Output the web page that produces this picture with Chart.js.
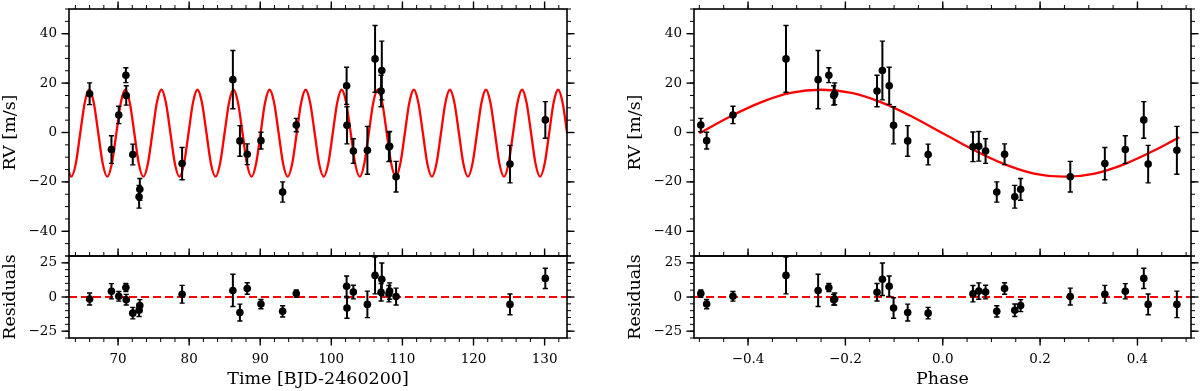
<!DOCTYPE html>
<html>
<head>
<meta charset="utf-8">
<script src="https://cdn.jsdelivr.net/npm/chart.js@4"></script>
<style>
  body { margin: 0; background: #fff; }
  #wrap { position: relative; width: 1200px; height: 391px; }
  canvas { position: absolute; }
</style>
</head>
<body>
<div id="wrap">
  <canvas id="timeRv" width="600" height="262" style="left:0;top:0"></canvas>
  <canvas id="timeRes" width="600" height="151" style="left:0;top:240px"></canvas>
  <canvas id="phaseRv" width="600" height="262" style="left:600px;top:0"></canvas>
  <canvas id="phaseRes" width="600" height="151" style="left:600px;top:240px"></canvas>
</div>
<script>
const times = [66.0, 69.07, 70.1, 71.1, 71.15, 72.07, 72.96, 73.06, 79.01, 86.15, 87.14, 88.17, 90.1, 93.15,
  95.07, 102.15, 102.2, 103.1, 105.07, 106.15, 107.0, 107.1, 108.1, 108.2, 109.11, 125.13, 130.1];
const phases = [-0.222, 0.375, -0.431, -0.234, -0.224, -0.030, 0.148, 0.160, 0.333, -0.256, -0.072, 0.127, -0.485, 0.111,
  -0.497, -0.110, -0.101, 0.088, 0.481, -0.322, -0.135, -0.124, 0.062, 0.074, 0.262, 0.422, 0.413];
const rv = [15.7, -6.9, 7.1, 23.2, 15.0, -8.9, -26.0, -23.0, -12.6, 21.4, -3.4, -8.8, -3.3, -24.1,
  3.0, 18.9, 2.9, -7.5, -7.2, 29.8, 16.8, 25.1, -5.8, -5.6, -17.9, -12.8, 5.1];
const rvErr = [4.4, 5.6, 3.5, 3.0, 3.9, 4.2, 4.6, 4.4, 6.5, 11.8, 6.2, 4.2, 3.4, 4.1,
  2.7, 7.5, 7.5, 5.0, 9.7, 13.5, 6.4, 11.9, 6.0, 6.0, 6.2, 7.6, 7.4];
const residuals = [-1.5, 4.2, 0.5, 7.0, -2.0, -11.8, -9.7, -6.3, 2.0, 4.8, -11.4, 6.2, -5.2, -10.5,
  2.5, 7.9, -8.0, 3.6, -5.4, 15.8, 3.5, 13.0, 2.4, 4.3, 0.3, -5.4, 13.6];

// keplerian model curve
const modelTime = [62.78, 63.41, 64.05, 64.68, 65.32,
  65.95, 66.58, 67.22, 67.85, 68.49, 69.12, 69.76, 70.39,
  71.02, 71.65, 72.29, 72.92, 73.56, 74.19, 74.83, 75.46,
  76.10, 76.73, 77.37, 78.00, 78.64, 79.27, 79.91, 80.54,
  81.17, 81.80, 82.44, 83.07, 83.71, 84.34, 84.98, 85.61,
  86.24, 86.87, 87.51, 88.14, 88.78, 89.41, 90.05, 90.68,
  91.32, 91.95, 92.59, 93.22, 93.86, 94.49, 95.13, 95.76,
  96.39, 97.02, 97.66, 98.29, 98.93, 99.56, 100.20, 100.83,
  101.46, 102.09, 102.73, 103.36, 104.00, 104.63, 105.27, 105.90,
  106.53, 107.16, 107.80, 108.43, 109.07, 109.70, 110.34, 110.97,
  111.61, 112.24, 112.88, 113.51, 114.15, 114.78, 115.42, 116.05,
  116.68, 117.31, 117.95, 118.58, 119.22, 119.85, 120.49, 121.12,
  121.75, 122.38, 123.02, 123.65, 124.29, 124.92, 125.56, 126.19,
  126.83, 127.46, 128.10, 128.73, 129.37, 130.00, 130.64, 131.27,
  131.90, 132.53, 133.17, 133.80];
const modelTimeRv = [-12.7, -17.9, -12.7, -0.3, 12.1,
  17.3, 12.1, -0.3, -12.7, -17.9, -12.7, -0.3, 12.1,
  17.3, 12.1, -0.3, -12.7, -17.9, -12.7, -0.3, 12.1,
  17.3, 12.1, -0.3, -12.7, -17.9, -12.7, -0.3, 12.1,
  17.3, 12.1, -0.3, -12.7, -17.9, -12.7, -0.3, 12.1,
  17.3, 12.1, -0.3, -12.7, -17.9, -12.7, -0.3, 12.1,
  17.3, 12.1, -0.3, -12.7, -17.9, -12.7, -0.3, 12.1,
  17.3, 12.1, -0.3, -12.7, -17.9, -12.7, -0.3, 12.1,
  17.3, 12.1, -0.3, -12.7, -17.9, -12.7, -0.3, 12.1,
  17.3, 12.1, -0.3, -12.7, -17.9, -12.7, -0.3, 12.1,
  17.3, 12.1, -0.3, -12.7, -17.9, -12.7, -0.3, 12.1,
  17.3, 12.1, -0.3, -12.7, -17.9, -12.7, -0.3, 12.1,
  17.3, 12.1, -0.3, -12.7, -17.9, -12.7, -0.3, 12.1,
  17.3, 12.1, -0.3, -12.7, -17.9, -12.7, -0.3, 12.1,
  17.3, 12.1, -0.3, -12.7];
const modelPhase = [-0.5, -0.4375, -0.375, -0.3125, -0.25, -0.1875, -0.125, -0.0625, 0,
  0.0625, 0.125, 0.1875, 0.25, 0.3125, 0.375, 0.4375, 0.486];
const modelPhaseRv = [-0.3, 6.4, 12.1, 16.0, 17.3, 16.0, 12.1, 6.4, -0.3,
  -7.0, -12.7, -16.6, -17.9, -16.6, -12.7, -7.0, -1.9];

// axes
const timeLimits = [63.1, 133.15];
const phaseLimits = [-0.511, 0.51];
const rvLimits = [-50, 50];
const residualLimits = [-30, 30];
const timeTicks = [70, 80, 90, 100, 110, 120, 130];
const phaseTicks = [-0.4, -0.2, 0.0, 0.2, 0.4];
const rvTicks = [-40, -20, 0, 20, 40];
const residualTicks = [-25, 0, 25];

const tickFont = { family: 'DejaVu Serif', size: 13.5 };
const labelFont = { family: 'DejaVu Serif', size: 17.5 };
const minus = (s) => String(s).replace('-', '\u2212');

// vertical error bars with caps, under the markers
const errorBars = {
  id: 'errorBars',
  beforeDatasetDraw(chart, args) {
    const ds = chart.data.datasets[args.index];
    if (!ds.errors) return;
    const { ctx, chartArea: a, scales: { x, y } } = chart;
    ctx.save();
    ctx.beginPath();
    ctx.rect(a.left, a.top, a.right - a.left, a.bottom - a.top);
    ctx.clip();
    ctx.strokeStyle = '#000';
    ds.data.forEach((p, i) => {
      const px = x.getPixelForValue(p.x);
      const hi = y.getPixelForValue(p.y + ds.errors[i]);
      const lo = y.getPixelForValue(p.y - ds.errors[i]);
      ctx.lineWidth = 2;
      ctx.beginPath();
      ctx.moveTo(px, hi);
      ctx.lineTo(px, lo);
      ctx.stroke();
      ctx.lineWidth = 1.4;
      ctx.beginPath();
      ctx.moveTo(px - 2.6, hi);
      ctx.lineTo(px + 2.6, hi);
      ctx.moveTo(px - 2.6, lo);
      ctx.lineTo(px + 2.6, lo);
      ctx.stroke();
    });
    ctx.restore();
  },
};

// matplotlib-like frame with outward major/minor ticks
const axesFrame = {
  id: 'axesFrame',
  afterDraw(chart, args, opts) {
    const { ctx, chartArea: a } = chart;
    const { x, y } = chart.scales;
    ctx.save();
    ctx.strokeStyle = '#000';
    const tick = (side, pos, len) => {
      ctx.beginPath();
      if (side === 'left') { ctx.moveTo(a.left, pos); ctx.lineTo(a.left - len, pos); }
      if (side === 'right') { ctx.moveTo(a.right, pos); ctx.lineTo(a.right + len, pos); }
      if (side === 'top') { ctx.moveTo(pos, a.top); ctx.lineTo(pos, a.top - len); }
      if (side === 'bottom') { ctx.moveTo(pos, a.bottom); ctx.lineTo(pos, a.bottom + len); }
      ctx.stroke();
    };
    for (const side of opts.sides) {
      const vertical = side === 'left' || side === 'right';
      const scale = vertical ? y : x;
      const step = vertical ? opts.yMinor : opts.xMinor;
      const majors = vertical ? opts.yMajor : opts.xMajor;
      ctx.lineWidth = 1;
      for (let i = Math.ceil(scale.min / step - 1e-6); i * step <= scale.max + 1e-6; i++) {
        tick(side, scale.getPixelForValue(i * step), 4);
      }
      ctx.lineWidth = 1.4;
      majors.forEach((v) => tick(side, scale.getPixelForValue(v), 7.5));
    }
    ctx.lineWidth = 1.6;
    ctx.strokeRect(a.left, a.top, a.right - a.left, a.bottom - a.top);
    ctx.restore();
  },
};

function yAxis(title, limits, ticks) {
  return {
    type: 'linear',
    min: limits[0],
    max: limits[1],
    afterBuildTicks: (s) => { s.ticks = ticks.map((v) => ({ value: v })); },
    afterFit: (s) => {
      s.width = 69;
      s.paddingTop = s.paddingBottom = s.paddingLeft = s.paddingRight = 0;
    },
    grid: { display: false, drawTicks: false },
    border: { display: false },
    ticks: { padding: 12, color: '#000', font: tickFont, callback: (v) => minus(v) },
    title: { display: true, text: title, color: '#000', font: labelFont, padding: 0 },
  };
}

function xAxis(limits, ticks, title, format) {
  if (!title) return { type: 'linear', min: limits[0], max: limits[1], display: false };
  return {
    type: 'linear',
    min: limits[0],
    max: limits[1],
    afterBuildTicks: (s) => { s.ticks = ticks.map((v) => ({ value: v })); },
    afterFit: (s) => {
      s.height = 53;
      s.paddingTop = s.paddingBottom = s.paddingLeft = s.paddingRight = 0;
    },
    grid: { display: false, drawTicks: false },
    border: { display: false },
    ticks: { padding: 13, color: '#000', font: tickFont, maxRotation: 0, autoSkip: false, callback: format },
    title: { display: true, text: title, color: '#000', font: labelFont, padding: { top: 0, bottom: 1 } },
  };
}

function points(xs, ys) {
  return xs.map((v, i) => ({ x: v, y: ys[i] }));
}

function panel(id, cfg) {
  return new Chart(document.getElementById(id), {
    type: 'scatter',
    data: { datasets: cfg.datasets },
    options: {
      responsive: false,
      animation: false,
      events: [],
      layout: { padding: cfg.padding },
      plugins: { legend: { display: false }, tooltip: { enabled: false }, axesFrame: cfg.frame },
      scales: { x: cfg.x, y: cfg.y },
    },
    plugins: [errorBars, axesFrame],
  });
}

const dataStyle = { backgroundColor: '#000', borderWidth: 0, pointRadius: 3.8, order: 1, clip: false };
const modelStyle = {
  showLine: true, pointRadius: 0, borderColor: '#ff0000', borderWidth: 2.3,
  cubicInterpolationMode: 'monotone', order: 2, clip: 0,
};
const zeroStyle = {
  showLine: true, pointRadius: 0, borderColor: '#ff0000', borderWidth: 2.2,
  borderDash: [8, 4], order: 2, clip: 0,
};

const timeFmt = (v) => String(v);
const phaseFmt = (v) => minus(Number(v).toFixed(1));

// left: RV vs time
panel('timeRv', {
  padding: { left: 0, top: 9, right: 33, bottom: 6 },
  frame: { sides: ['left', 'top', 'right'], xMajor: timeTicks, xMinor: 2, yMajor: rvTicks, yMinor: 5 },
  x: xAxis(timeLimits),
  y: yAxis('RV [m/s]', rvLimits, rvTicks),
  datasets: [
    { ...modelStyle, data: points(modelTime, modelTimeRv) },
    { ...dataStyle, data: points(times, rv), errors: rvErr },
  ],
});

panel('timeRes', {
  padding: { left: 0, top: 16, right: 33, bottom: 0 },
  frame: { sides: ['left', 'top', 'right', 'bottom'], xMajor: timeTicks, xMinor: 2, yMajor: residualTicks, yMinor: 5 },
  x: xAxis(timeLimits, timeTicks, 'Time [BJD-2460200]', timeFmt),
  y: yAxis('Residuals', residualLimits, residualTicks),
  datasets: [
    { ...zeroStyle, data: points(timeLimits, [0, 0]) },
    { ...dataStyle, data: points(times, residuals), errors: rvErr },
  ],
});

// right: RV vs orbital phase
panel('phaseRv', {
  padding: { left: 25, top: 9, right: 9, bottom: 6 },
  frame: { sides: ['left', 'top', 'right'], xMajor: phaseTicks, xMinor: 0.05, yMajor: rvTicks, yMinor: 5 },
  x: xAxis(phaseLimits),
  y: yAxis('RV [m/s]', rvLimits, rvTicks),
  datasets: [
    { ...modelStyle, data: points(modelPhase, modelPhaseRv) },
    { ...dataStyle, data: points(phases, rv), errors: rvErr },
  ],
});

panel('phaseRes', {
  padding: { left: 25, top: 16, right: 9, bottom: 0 },
  frame: { sides: ['left', 'top', 'right', 'bottom'], xMajor: phaseTicks, xMinor: 0.05, yMajor: residualTicks, yMinor: 5 },
  x: xAxis(phaseLimits, phaseTicks, 'Phase', phaseFmt),
  y: yAxis('Residuals', residualLimits, residualTicks),
  datasets: [
    { ...zeroStyle, data: points(phaseLimits, [0, 0]) },
    { ...dataStyle, data: points(phases, residuals), errors: rvErr },
  ],
});
</script>
</body>
</html>
